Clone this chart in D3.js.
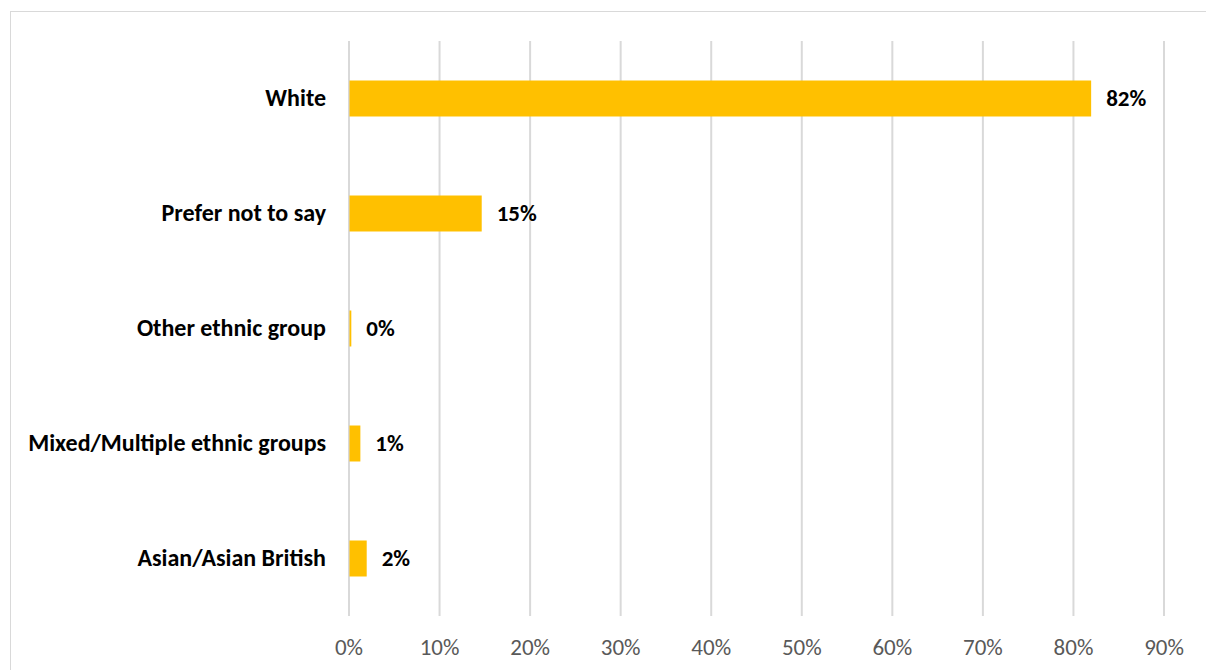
<!DOCTYPE html>
<html>
<head>
<meta charset="utf-8">
<script src="https://cdn.jsdelivr.net/npm/d3@7"></script>
<style>
  html, body { margin: 0; padding: 0; background: #fff; }
  svg { display: block; }
</style>
</head>
<body>
<svg id="chart" width="1206" height="670"></svg>
<script>
// Ethnic group breakdown (share of respondents, %)
const categories = ["White", "Prefer not to say", "Other ethnic group", "Mixed/Multiple ethnic groups", "Asian/Asian British"];
const values = [81.9, 14.6, 0.2, 1.2, 1.9];
const valueLabels = ["82%", "15%", "0%", "1%", "2%"];
const tickValues = [0, 10, 20, 30, 40, 50, 60, 70, 80, 90];

const svg = d3.select("#chart");
const W = 1206, H = 670;
const margin = { left: 348.5, right: 1163.5, top: 41, bottom: 616 };
const fontFamily = "Carlito, Calibri, Lato, 'Open Sans', sans-serif";

// Chart frame
svg.append("rect")
  .attr("x", 10.5).attr("y", 11.5)
  .attr("width", W).attr("height", H)
  .attr("fill", "#fff")
  .attr("stroke", "#d9d9d9").attr("stroke-width", 1);

const x = d3.scaleLinear().domain([0, 90]).range([margin.left, margin.right]);
const y = d3.scaleBand().domain(categories)
  .range([margin.top, margin.bottom])
  .paddingInner(0.687).paddingOuter(0.3435);

// Vertical gridlines
const grid = svg.append("g")
  .attr("transform", `translate(0,${margin.bottom})`)
  .call(d3.axisBottom(x).tickValues(tickValues).tickSize(-(margin.bottom - margin.top)).tickFormat(""));
grid.select(".domain").remove();
grid.selectAll(".tick line").attr("stroke", "#d9d9d9").attr("stroke-width", 2);

// Tick labels
const axis = svg.append("g")
  .attr("transform", `translate(0,${margin.bottom})`)
  .call(d3.axisBottom(x).tickValues(tickValues).tickSize(0).tickPadding(23).tickFormat(d => d + "%"));
axis.select(".domain").remove();
axis.selectAll("text")
  .attr("fill", "#595959")
  .style("font-family", fontFamily)
  .style("font-size", "23px");

// Bars
svg.append("g").selectAll("rect")
  .data(categories)
  .join("rect")
  .attr("x", x(0) + 1)
  .attr("y", d => y(d))
  .attr("width", (d, i) => Math.max(1, x(values[i]) - x(0)))
  .attr("height", y.bandwidth())
  .attr("fill", "#ffc000");

// Value labels
svg.append("g").selectAll("text")
  .data(categories)
  .join("text")
  .attr("x", (d, i) => x(values[i]) + 16)
  .attr("y", d => y(d) + y.bandwidth() / 2)
  .attr("dy", "0.33em")
  .style("font-family", fontFamily)
  .style("font-size", "23px")
  .style("font-weight", "bold")
  .attr("fill", "#000")
  .text((d, i) => valueLabels[i]);

// Category labels
svg.append("g").selectAll("text")
  .data(categories)
  .join("text")
  .attr("x", 326)
  .attr("y", d => y(d) + y.bandwidth() / 2)
  .attr("dy", "0.33em")
  .attr("text-anchor", "end")
  .style("font-family", fontFamily)
  .style("font-size", "24px")
  .style("font-weight", "bold")
  .attr("fill", "#000")
  .text(d => d);
</script>
</body>
</html>
